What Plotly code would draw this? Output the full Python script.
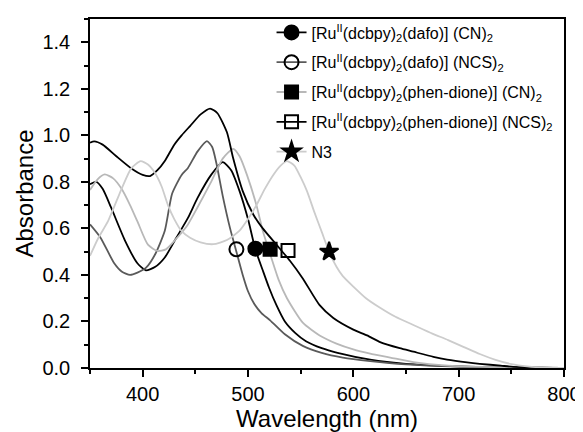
import plotly.graph_objects as go

# ---- data ----
names = [
    "[Ru<sup>II</sup>(dcbpy)<sub>2</sub>(dafo)] (CN)<sub>2</sub>",
    "[Ru<sup>II</sup>(dcbpy)<sub>2</sub>(dafo)] (NCS)<sub>2</sub>",
    "[Ru<sup>II</sup>(dcbpy)<sub>2</sub>(phen-dione)] (CN)<sub>2</sub>",
    "[Ru<sup>II</sup>(dcbpy)<sub>2</sub>(phen-dione)] (NCS)<sub>2</sub>",
    "N3",
]

dafo_cn_x = [350, 356, 362, 370, 383, 395, 403, 412, 421, 432, 443, 452, 465, 476, 484, 492, 500, 507, 514, 520, 527, 535, 545, 555, 570, 585, 616, 650, 700, 750, 800]
dafo_cn_y = [0.79, 0.80, 0.77, 0.69, 0.55, 0.45, 0.42, 0.435, 0.475, 0.56, 0.645, 0.73, 0.83, 0.885, 0.85, 0.76, 0.64, 0.51, 0.42, 0.345, 0.27, 0.20, 0.15, 0.115, 0.085, 0.065, 0.036, 0.018, 0.007, 0.002, 0.0]

dafo_ncs_x = [350, 360, 373, 380, 388, 395, 403, 412, 421, 428, 437, 443, 452, 461, 466, 470, 476, 483, 489, 495, 500, 506, 513, 521, 535, 552, 570, 590, 616, 650, 700, 750, 800]
dafo_ncs_y = [0.617, 0.56, 0.45, 0.415, 0.40, 0.41, 0.43, 0.49, 0.59, 0.75, 0.83, 0.86, 0.93, 0.975, 0.95, 0.88, 0.74, 0.60, 0.50, 0.40, 0.33, 0.275, 0.235, 0.205, 0.145, 0.095, 0.065, 0.045, 0.03, 0.016, 0.006, 0.002, 0.0]

phen_cn_x = [350, 357, 364, 372, 380, 388, 395, 405, 414, 422, 430, 442, 452, 465, 476, 486, 492, 499, 508, 514, 521, 529, 537, 552, 568, 584, 600, 616, 635, 657, 690, 750, 800]
phen_cn_y = [0.765, 0.81, 0.832, 0.815, 0.77, 0.70, 0.63, 0.53, 0.503, 0.51, 0.546, 0.61, 0.69, 0.80, 0.90, 0.942, 0.91, 0.83, 0.70, 0.59, 0.49, 0.38, 0.30, 0.195, 0.14, 0.105, 0.08, 0.062, 0.045, 0.025, 0.01, 0.002, 0.0]

phen_ncs_x = [350, 354, 362, 375, 390, 400, 407, 414, 421, 430, 437, 445, 455, 464, 471, 480, 486, 495, 505, 514, 527, 540, 552, 568, 581, 600, 613, 626, 644, 657, 676, 689, 708, 720, 740, 752, 800]
phen_ncs_y = [0.968, 0.974, 0.96, 0.91, 0.855, 0.83, 0.825, 0.85, 0.89, 0.96, 1.0, 1.04, 1.09, 1.115, 1.095, 1.013, 0.90, 0.76, 0.66, 0.60, 0.53, 0.46, 0.385, 0.27, 0.215, 0.165, 0.14, 0.11, 0.085, 0.07, 0.048, 0.036, 0.024, 0.018, 0.01, 0.005, 0.0]

n3_x = [350, 358, 367, 380, 389, 398, 405, 411, 418, 424, 430, 437, 445, 455, 467, 480, 492, 500, 508, 516, 524, 531, 537, 544, 550, 556, 563, 570, 577, 584, 590, 600, 612, 625, 640, 657, 675, 690, 705, 720, 735, 750, 765, 780, 800]
n3_y = [0.482, 0.56, 0.63, 0.77, 0.857, 0.889, 0.875, 0.843, 0.78, 0.70, 0.64, 0.588, 0.56, 0.54, 0.532, 0.55, 0.59, 0.64, 0.70, 0.77, 0.83, 0.87, 0.889, 0.87, 0.82, 0.76, 0.67, 0.585, 0.50, 0.435, 0.395, 0.35, 0.30, 0.26, 0.22, 0.185, 0.148, 0.12, 0.09, 0.06, 0.035, 0.017, 0.007, 0.002, 0.0]

marker_x = [507, 489, 521, 538, 577]
marker_y = [0.513, 0.51, 0.51, 0.505, 0.50]

series_x = [dafo_cn_x, dafo_ncs_x, phen_cn_x, phen_ncs_x, n3_x]
series_y = [dafo_cn_y, dafo_ncs_y, phen_cn_y, phen_ncs_y, n3_y]

x_ticks = [400, 500, 600, 700, 800]
y_ticks = [0.0, 0.2, 0.4, 0.6, 0.8, 1.0, 1.2, 1.4]

# ---- styles ----
line_colors = ["#000000", "#5a5a5a", "#b8b8b8", "#000000", "#cccccc"]
symbols = ["circle", "circle-open", "square", "square-open", "star"]
msizes = [14, 14, 13, 13, 14]

fig = go.Figure()

for i in range(5):
    fig.add_trace(go.Scatter(
        x=series_x[i], y=series_y[i], mode="lines",
        line=dict(color=line_colors[i], width=1.8, shape="spline", smoothing=0.6),
        showlegend=False, hoverinfo="skip",
    ))

for i in range(5):
    fig.add_trace(go.Scatter(
        x=[marker_x[i]], y=[marker_y[i]], mode="markers",
        marker=dict(symbol=symbols[i], size=msizes[i], color="#000000",
                    line=dict(color="#000000", width=2)),
        showlegend=False, hoverinfo="skip",
    ))

for i in range(5):
    fig.add_trace(go.Scatter(
        x=[None], y=[None], mode="lines+markers", name=names[i],
        line=dict(color=line_colors[i], width=1.8),
        marker=dict(symbol=symbols[i], size=msizes[i], color="#000000",
                    line=dict(color="#000000", width=2)),
        legendgroup="g%d" % i,
    ))

# the page body adds an 8px offset, so the figure is 575x424 placed at (8, 8)
fig.update_layout(
    width=575, height=424,
    margin=dict(l=82, r=19, t=7, b=63.5),
    paper_bgcolor="white", plot_bgcolor="white",
    font=dict(family="Liberation Sans, Arial, sans-serif", color="#000000"),
    showlegend=True,
    legend=dict(
        x=0.383, y=1.01, xanchor="left", yanchor="top",
        bgcolor="rgba(0,0,0,0)", borderwidth=0,
        font=dict(size=16, family="Liberation Sans, Arial, sans-serif"),
        traceorder="grouped", tracegroupgap=6,
        itemwidth=30,
    ),
    xaxis=dict(
        range=[350, 800], tickvals=x_ticks, ticktext=[str(v) for v in x_ticks],
        ticks="outside", ticklen=7, tickwidth=1.5, tickcolor="#000000",
        minor=dict(dtick=50, tick0=350, ticks="outside", ticklen=4, tickwidth=1.5, tickcolor="#000000"),
        showline=True, linecolor="#000000", linewidth=1.5, mirror=True,
        showgrid=False, zeroline=False, automargin=False,
        tickfont=dict(size=20),
        title=dict(text="Wavelength (nm)", font=dict(size=24), standoff=9),
    ),
    yaxis=dict(
        range=[0, 1.5], tickvals=y_ticks, ticktext=["%.1f" % v for v in y_ticks],
        ticks="outside", ticklen=7, tickwidth=1.5, tickcolor="#000000",
        minor=dict(dtick=0.1, tick0=0, ticks="outside", ticklen=4, tickwidth=1.5, tickcolor="#000000"),
        showline=True, linecolor="#000000", linewidth=1.5, mirror=True,
        showgrid=False, zeroline=False, automargin=False,
        tickfont=dict(size=20), ticklabelstandoff=7,
        title=dict(text="Absorbance", font=dict(size=24), standoff=2),
    ),
)

fig.write_html("out.html")
